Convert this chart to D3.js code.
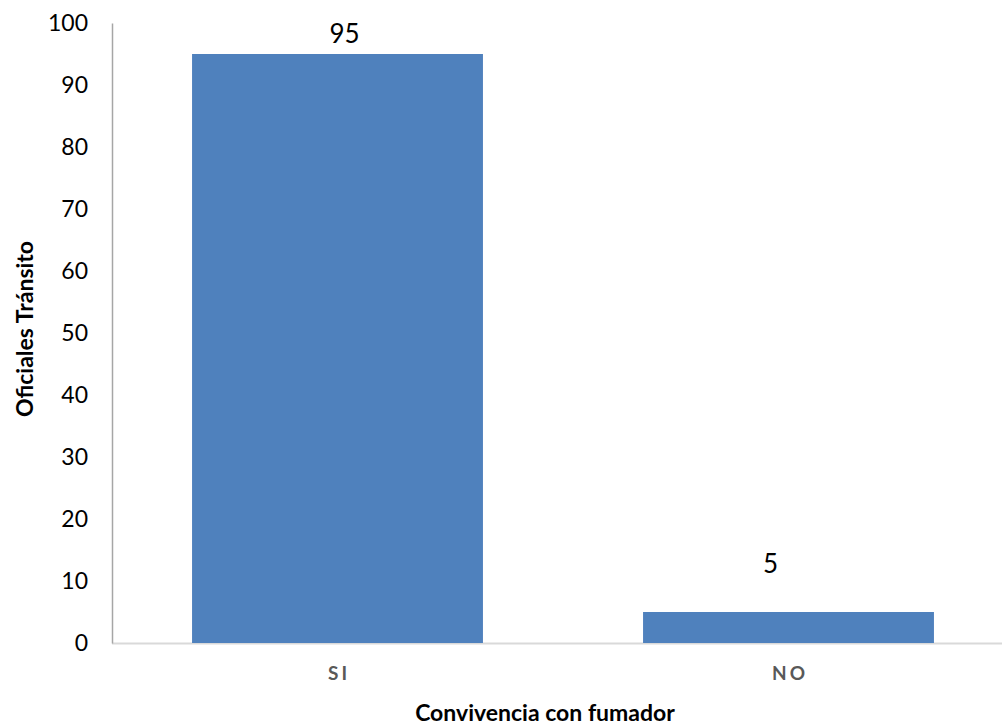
<!DOCTYPE html>
<html>
<head>
<meta charset="utf-8">
<script src="https://cdn.jsdelivr.net/npm/d3@7"></script>
<style>
  html, body { margin: 0; padding: 0; background: #fff; }
  svg { display: block; }
  text { font-family: Lato, "Open Sans", sans-serif; }
</style>
</head>
<body>
<svg id="chart" width="1002" height="725"></svg>
<script>
// Respondents by whether they live with a smoker
const categories = ["SI", "NO"];
const values = [95, 5];
const yTicks = [0, 10, 20, 30, 40, 50, 60, 70, 80, 90, 100];
// nudges for the value labels, relative to the bar top centre
const labelShiftX = [7, -18];
const labelShiftY = [-11, -39];

const svg = d3.select("#chart");
const plotLeft = 112, plotRight = 1014, plotTop = 23, plotBottom = 643;

const x = d3.scaleBand()
  .domain(categories)
  .range([plotLeft, plotRight])
  .paddingInner(0.355)
  .paddingOuter(0.1775);

const y = d3.scaleLinear().domain([0, 100]).range([plotBottom, plotTop]);

// baseline
svg.append("line")
  .attr("x1", plotLeft).attr("x2", 1002)
  .attr("y1", plotBottom + 0.5).attr("y2", plotBottom + 0.5)
  .attr("stroke", "#d9d9d9").attr("stroke-width", 2);

// bars
svg.selectAll("rect.bar")
  .data(values)
  .join("rect")
  .attr("class", "bar")
  .attr("x", (d, i) => x(categories[i]))
  .attr("width", x.bandwidth())
  .attr("y", d => y(d))
  .attr("height", d => y(0) - y(d))
  .attr("fill", "#4f81bd");

// y axis
const yAxis = d3.axisLeft(y).tickValues(yTicks).tickSize(0).tickPadding(24);
const gy = svg.append("g").attr("transform", `translate(${plotLeft},0)`).call(yAxis);
gy.select(".domain").attr("stroke", "#a6a6a6").attr("stroke-width", 1.5);
gy.selectAll("text")
  .attr("font-size", 23)
  .attr("fill", "#000")
  .attr("font-family", "Lato, sans-serif");

// x axis category labels
const xAxis = d3.axisBottom(x).tickSize(0).tickPadding(24);
const gx = svg.append("g").attr("transform", `translate(0,${plotBottom})`).call(xAxis);
gx.select(".domain").remove();
gx.selectAll("text")
  .attr("font-size", 19)
  .attr("font-weight", "bold")
  .attr("letter-spacing", "3px")
  .attr("fill", "#595959")
  .attr("font-family", "Lato, sans-serif")
  .attr("dx", "1.5px");

// value labels
svg.selectAll("text.value")
  .data(values)
  .join("text")
  .attr("class", "value")
  .attr("x", (d, i) => x(categories[i]) + x.bandwidth() / 2 + labelShiftX[i])
  .attr("y", (d, i) => y(d) + labelShiftY[i])
  .attr("text-anchor", "middle")
  .attr("font-size", 26)
  .attr("fill", "#000")
  .text(d => d);

// axis titles
svg.append("text")
  .attr("x", 545).attr("y", 721)
  .attr("text-anchor", "middle")
  .attr("font-size", 23)
  .attr("font-weight", "bold")
  .attr("fill", "#000")
  .text("Convivencia con fumador");

svg.append("text")
  .attr("transform", "translate(33,329) rotate(-90)")
  .attr("text-anchor", "middle")
  .attr("font-size", 23)
  .attr("font-weight", "bold")
  .attr("fill", "#000")
  .text("Oficiales Tránsito");
</script>
</body>
</html>
